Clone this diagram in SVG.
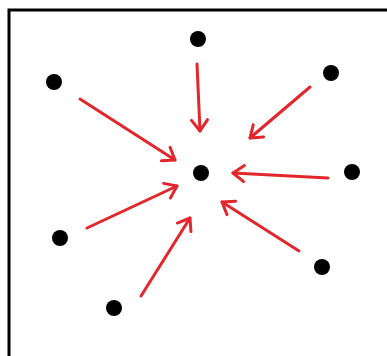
<svg xmlns="http://www.w3.org/2000/svg" width="387" height="356" viewBox="0 0 387 356">
<defs>
<style>
.dot{fill:#000}
.arr{stroke:#e3262c;stroke-width:3;fill:none;stroke-linecap:round;marker-end:url(#ah)}
</style>
<marker id="ah" markerUnits="userSpaceOnUse" markerWidth="20" markerHeight="20" refX="14" refY="10" orient="auto" viewBox="0 0 20 20">
<path d="M3,2 L14,10 L3,18" fill="none" stroke="#e3262c" stroke-width="3" stroke-linecap="round" stroke-linejoin="round"/>
</marker>
</defs>
<rect width="387" height="356" fill="#fff"/>
<path d="M9,356 L9,10 L387,10" fill="none" stroke="#000" stroke-width="3"/>
<g id="connectors">
<line class="arr" x1="197" y1="64" x2="200" y2="131"/>
<line class="arr" x1="80" y1="99" x2="175" y2="160"/>
<line class="arr" x1="310" y1="87" x2="250" y2="138"/>
<line class="arr" x1="328" y1="178" x2="233" y2="173"/>
<line class="arr" x1="87" y1="228" x2="177" y2="186"/>
<line class="arr" x1="141" y1="296" x2="190" y2="218"/>
<line class="arr" x1="299" y1="251" x2="222" y2="202"/>
</g>
<g id="n-center"><circle class="dot" cx="201" cy="173" r="8"/></g>
<g id="n-top"><circle class="dot" cx="198" cy="39" r="8"/></g>
<g id="n-upper-left"><circle class="dot" cx="54" cy="82" r="8"/></g>
<g id="n-upper-right"><circle class="dot" cx="331" cy="73" r="8"/></g>
<g id="n-right"><circle class="dot" cx="352" cy="172" r="8"/></g>
<g id="n-left"><circle class="dot" cx="60" cy="238" r="8"/></g>
<g id="n-lower-right"><circle class="dot" cx="322" cy="267" r="8"/></g>
<g id="n-bottom"><circle class="dot" cx="114" cy="308" r="8"/></g>
</svg>
